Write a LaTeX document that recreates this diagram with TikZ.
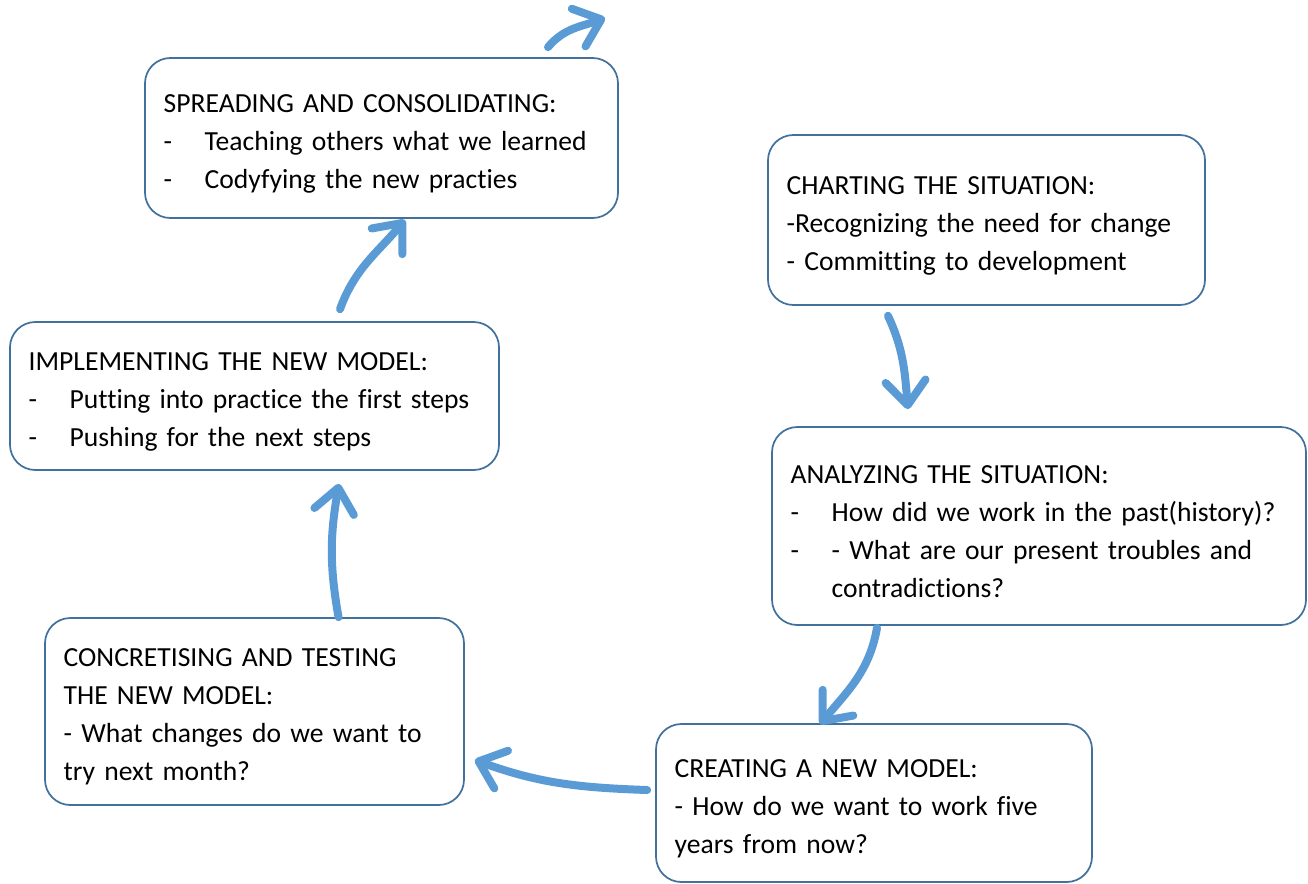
\documentclass[tikz,border=0pt]{standalone}
\usepackage{fontspec}
\setmainfont{Carlito}[Ligatures=NoCommon, WordSpace=0.78]
\usetikzlibrary{positioning,arrows.meta}

\definecolor{boxline}{HTML}{41719C}
\definecolor{flowblue}{HTML}{5B9BD5}

\newcommand\dashitem{\makebox[30.75pt][l]{-}}
\newcommand\hangon{\hspace*{30.75pt}}

\tikzset{
  box/.style={draw=boxline, line width=1.3pt, rounded corners=19pt,
    align=left, inner xsep=14pt, inner ysep=0pt,
    font=\fontsize{20.7}{28.5}\selectfont,
    execute at begin node={\rule{0pt}{22pt}}},
  flow/.style={draw=flowblue, line width=6pt, line cap=round,
    -{Straight Barb[round, length=18pt, width=30pt]}}
}

\begin{document}
\begin{tikzpicture}[x=0.75pt, y=0.75pt]
    \useasboundingbox (0,0) rectangle (1308,-883);

    % the six stages
    \node[box, text width=326.75pt, minimum height=120pt] (spread) at (381.5,-138)
      {SPREADING AND CONSOLIDATING:\\
       \dashitem Teaching others what we learned\\
       \dashitem Codyfying the new practies};
    \node[box, text width=299.75pt, minimum height=127.5pt] (chart) at (986.5,-220)
      {CHARTING THE SITUATION:\\
       -Recognizing the need for change\\
       - Committing to development};
    \node[box, text width=338.75pt, minimum height=111pt] (implement) at (254.5,-396)
      {IMPLEMENTING THE NEW MODEL:\\
       \dashitem Putting into practice the first steps\\
       \dashitem Pushing for the next steps};
    \node[box, text width=372.5pt, minimum height=148.5pt] (analyze) at (1039,-526)
      {ANALYZING THE SITUATION:\\
       \dashitem How did we work in the past(history)?\\
       \dashitem - What are our present troubles and\\
       \hangon contradictions?};
    \node[box, text width=286.25pt, minimum height=140.25pt] (concrete) at (254.5,-711.5)
      {CONCRETISING AND TESTING\\
       THE NEW MODEL:\\
       - What changes do we want to\\
       try next month?};
    \node[box, text width=299pt, minimum height=118.5pt] (create) at (874,-803)
      {CREATING A NEW MODEL:\\
       - How do we want to work five\\
       years from now?};

    \coordinate (onward) at (605,-18);

    % the cycle
    \draw[flow] ([shift={(-98.5,-10)}]chart.south) to[out=-65, in=95]
      ([shift={(-131,17)}]analyze.north);
    \draw[flow] ([shift={(-162,-2)}]analyze.south) to[out=-100, in=50]
      ([shift={(-54,-1)}]create.north);
    \draw[flow] ([shift={(-8,13)}]create.west) to[out=178, in=-20]
      ([shift={(10,-48.5)}]concrete.east);
    \draw[flow] ([shift={(84,0)}]concrete.north) to[out=100, in=-100]
      ([shift={(84.5,-13)}]implement.south);
    \draw[flow] ([shift={(85.5,12)}]implement.north) to[out=70, in=230]
      ([shift={(23.5,-1)}]spread.south);
    \draw[flow] ([shift={(166.5,10)}]spread.north) to[out=50, in=200] (onward);
  \end{tikzpicture}
\end{document}
